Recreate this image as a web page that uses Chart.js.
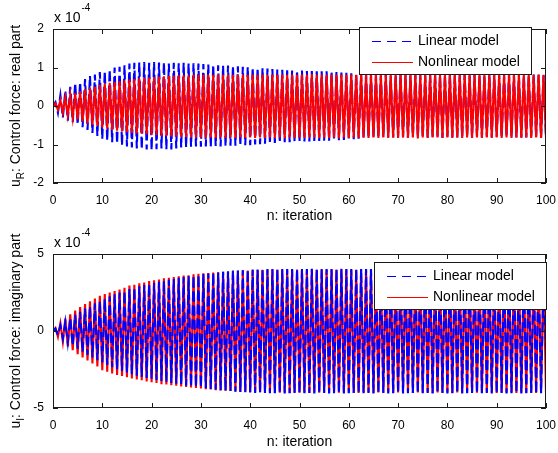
<!DOCTYPE html>
<html>
<head>
<meta charset="utf-8">
<script src="https://cdn.jsdelivr.net/npm/chart.js@4.4.1/dist/chart.umd.min.js"></script>
<style>
  html, body { margin: 0; padding: 0; background: #fff; }
  .panel { position: absolute; left: 0; width: 558px; }
  #realPanel { top: 0; height: 226px; }
  #imagPanel { top: 226px; height: 227px; }
</style>
</head>
<body>
<div class="panel" id="realPanel"><canvas id="realChart"></canvas></div>
<div class="panel" id="imagPanel"><canvas id="imagChart"></canvas></div>
<script>
// samples are taken every half iteration; values are in units of 1e-4
const STEP = 0.5;
const xTicks = [0, 10, 20, 30, 40, 50, 60, 70, 80, 90, 100];
const realTicks = [-2, -1, 0, 1, 2];
const imagTicks = [-5, 0, 5];
const seriesNames = ['Linear model', 'Nonlinear model'];

// u_R, linear model
const realLinear = [
  0, 0.1, -0.18, 0.28, -0.3, 0.4, -0.38, 0.5, -0.42, 0.6,
  -0.48, 0.62, -0.55, 0.7, -0.62, 0.78, -0.7, 0.82, -0.78, 0.88,
  -0.85, 0.9, -0.9, 0.95, -0.94, 1.0, -0.98, 1.02, -1.02, 1.06,
  -1.05, 1.1, -1.08, 1.12, -1.1, 1.13, -1.12, 1.14, -1.13, 1.12,
  -1.15, 1.14, -1.12, 1.13, -1.1, 1.14, -1.12, 1.1, -1.13, 1.12,
  -1.1, 1.11, -1.08, 1.12, -1.07, 1.1, -1.06, 1.11, -1.05, 1.1,
  -1.06, 1.09, -1.05, 1.08, -1.06, 1.07, -1.04, 1.06, -1.05, 1.05,
  -1.04, 1.05, -1.03, 1.04, -1.03, 1.03, -1.02, 1.02, -1.02, 1.01,
  -1.02, 1.0, -1.0, 0.99, -0.99, 0.98, -0.98, 0.97, -0.97, 0.96,
  -0.96, 0.95, -0.95, 0.94, -0.94, 0.93, -0.94, 0.92, -0.93, 0.92,
  -0.93, 0.92, -0.92, 0.91, -0.92, 0.91, -0.91, 0.9, -0.91, 0.9,
  -0.9, 0.9, -0.9, 0.89, -0.89, 0.88, -0.89, 0.87, -0.88, 0.86,
  -0.87, 0.85, -0.86, 0.84, -0.85, 0.83, -0.84, 0.82, -0.83, 0.82,
  -0.82, 0.8, -0.83, 0.79, -0.81, 0.82, -0.8, 0.78, -0.82, 0.81,
  -0.79, 0.82, -0.81, 0.8, -0.83, 0.79, -0.8, 0.81, -0.82, 0.8,
  -0.81, 0.79, -0.82, 0.81, -0.8, 0.82, -0.79, 0.8, -0.83, 0.81,
  -0.8, 0.82, -0.81, 0.79, -0.82, 0.8, -0.81, 0.82, -0.8, 0.79,
  -0.82, 0.81, -0.79, 0.8, -0.82, 0.81, -0.8, 0.82, -0.81, 0.8,
  -0.8, 0.79, -0.82, 0.81, -0.8, 0.82, -0.81, 0.8, -0.82, 0.79,
  -0.81, 0.8, -0.82, 0.81, -0.79, 0.82, -0.8, 0.81, -0.82, 0.8,
  -0.81
];

// u_R, nonlinear model
const realNonlinear = [
  0, 0.06, -0.1, 0.15, -0.17, 0.22, -0.24, 0.28, -0.3, 0.33,
  -0.35, 0.38, -0.4, 0.43, -0.45, 0.47, -0.49, 0.5, -0.52, 0.55,
  -0.56, 0.58, -0.59, 0.6, -0.62, 0.63, -0.64, 0.65, -0.66, 0.67,
  -0.68, 0.69, -0.7, 0.7, -0.71, 0.72, -0.72, 0.73, -0.73, 0.74,
  -0.75, 0.75, -0.76, 0.76, -0.77, 0.77, -0.78, 0.78, -0.79, 0.79,
  -0.79, 0.8, -0.8, 0.8, -0.81, 0.8, -0.81, 0.81, -0.82, 0.81,
  -0.82, 0.81, -0.83, 0.82, -0.82, 0.81, -0.83, 0.82, -0.82, 0.81,
  -0.83, 0.82, -0.82, 0.81, -0.83, 0.82, -0.82, 0.82, -0.83, 0.81,
  -0.82, 0.82, -0.83, 0.81, -0.82, 0.82, -0.83, 0.81, -0.82, 0.82,
  -0.83, 0.81, -0.82, 0.82, -0.84, 0.81, -0.82, 0.82, -0.83, 0.81,
  -0.82, 0.82, -0.83, 0.81, -0.82, 0.83, -0.82, 0.81, -0.83, 0.82,
  -0.82, 0.81, -0.83, 0.82, -0.82, 0.81, -0.84, 0.82, -0.82, 0.81,
  -0.83, 0.82, -0.82, 0.81, -0.83, 0.82, -0.82, 0.82, -0.83, 0.81,
  -0.82, 0.82, -0.83, 0.81, -0.82, 0.82, -0.83, 0.81, -0.82, 0.82,
  -0.83, 0.81, -0.82, 0.82, -0.83, 0.81, -0.82, 0.82, -0.84, 0.81,
  -0.82, 0.82, -0.83, 0.81, -0.82, 0.83, -0.82, 0.81, -0.83, 0.82,
  -0.82, 0.81, -0.83, 0.82, -0.82, 0.81, -0.83, 0.82, -0.82, 0.81,
  -0.83, 0.82, -0.82, 0.81, -0.83, 0.82, -0.82, 0.82, -0.83, 0.81,
  -0.82, 0.82, -0.83, 0.81, -0.82, 0.82, -0.83, 0.81, -0.82, 0.82,
  -0.83, 0.81, -0.82, 0.82, -0.83, 0.81, -0.82, 0.82, -0.83, 0.81,
  -0.82
];

// u_I, linear model
const imagLinear = [
  0, 0.15, -0.25, 0.38, -0.5, 0.6, -0.75, 0.85, -0.95, 1.05,
  -1.15, 1.25, -1.35, 1.45, -1.55, 1.62, -1.72, 1.8, -1.9, 1.95,
  -2.05, 2.1, -2.2, 2.25, -2.35, 2.38, -2.48, 2.5, -2.6, 2.6,
  -2.7, 2.72, -2.8, 2.82, -2.9, 2.9, -2.98, 2.98, -3.05, 3.05,
  -3.1, 3.12, -3.18, 3.2, -3.25, 3.25, -3.32, 3.32, -3.38, 3.38,
  -3.42, 3.45, -3.5, 3.5, -3.55, 3.55, -3.6, 3.6, -3.64, 3.65,
  -3.68, 3.7, -3.72, 3.74, -3.76, 3.78, -3.8, 3.8, -3.84, 3.84,
  -3.88, 3.88, -3.9, 3.92, -3.94, 3.94, -3.96, 3.96, -3.98, 3.98,
  -4.0, 3.99, -4.02, 4.0, -4.03, 4.01, -4.02, 4.02, -4.04, 4.02,
  -4.04, 4.03, -4.03, 4.02, -4.05, 4.03, -4.04, 4.02, -4.03, 4.03,
  -4.05, 4.02, -4.04, 4.03, -4.03, 4.04, -4.05, 4.02, -4.04, 4.03,
  -4.03, 4.03, -4.05, 4.02, -4.04, 4.03, -4.03, 4.04, -4.05, 4.02,
  -4.04, 4.03, -4.03, 4.02, -4.05, 4.03, -4.04, 4.02, -4.03, 4.03,
  -4.05, 4.02, -4.04, 4.03, -4.03, 4.04, -4.05, 4.02, -4.04, 4.03,
  -4.03, 4.03, -4.05, 4.02, -4.04, 4.03, -4.03, 4.04, -4.05, 4.02,
  -4.04, 4.03, -4.03, 4.02, -4.05, 4.03, -4.04, 4.02, -4.03, 4.03,
  -4.05, 4.02, -4.04, 4.03, -4.03, 4.04, -4.05, 4.02, -4.04, 4.03,
  -4.03, 4.03, -4.05, 4.02, -4.04, 4.03, -4.03, 4.04, -4.05, 4.02,
  -4.04, 4.03, -4.03, 4.02, -4.05, 4.03, -4.04, 4.02, -4.03, 4.03,
  -4.05, 4.02, -4.04, 4.03, -4.03, 4.04, -4.05, 4.02, -4.04, 3.2,
  -1.2
];

// u_I, nonlinear model
const imagNonlinear = [
  0, 0.2, -0.38, 0.5, -0.7, 0.8, -1.0, 1.08, -1.25, 1.32,
  -1.5, 1.55, -1.72, 1.75, -1.92, 1.93, -2.1, 2.1, -2.3, 2.28,
  -2.55, 2.4, -2.65, 2.5, -2.75, 2.6, -2.85, 2.7, -2.92, 2.8,
  -3.0, 2.95, -3.08, 3.0, -3.15, 3.1, -3.2, 3.15, -3.28, 3.25,
  -3.32, 3.3, -3.38, 3.35, -3.45, 3.42, -3.48, 3.45, -3.52, 3.5,
  -3.55, 3.55, -3.6, 3.6, -3.64, 3.62, -3.66, 3.68, -3.7, 3.72,
  -3.74, 3.75, -3.78, 3.76, -3.8, 3.8, -3.84, 3.82, -3.86, 3.84,
  -3.88, 3.85, -3.9, 3.88, -3.92, 3.9, -3.94, 3.9, -3.95, 3.92,
  -3.96, 3.95, -3.98, 3.96, -3.98, 3.97, -4.0, 3.98, -4.0, 3.98,
  -4.0, 3.97, -4.01, 3.98, -3.99, 3.98, -4.02, 3.97, -4.0, 3.99,
  -4.01, 3.98, -3.99, 3.97, -4.02, 3.99, -4.0, 3.98, -4.01, 3.97,
  -3.99, 3.98, -4.02, 3.99, -4.0, 3.97, -4.01, 3.98, -3.99, 3.99,
  -4.0, 3.98, -4.01, 3.97, -4.02, 3.98, -3.99, 3.99, -4.0, 3.98,
  -4.02, 3.97, -4.0, 3.99, -4.01, 3.98, -3.99, 3.97, -4.02, 3.98,
  -4.0, 3.99, -4.01, 3.98, -3.99, 3.97, -4.02, 3.98, -4.0, 3.99,
  -4.01, 3.97, -3.99, 3.98, -4.02, 3.99, -4.0, 3.98, -4.01, 3.97,
  -3.99, 3.98, -4.02, 3.99, -4.0, 3.97, -4.01, 3.98, -3.99, 3.99,
  -4.0, 3.98, -4.01, 3.97, -4.02, 3.98, -3.99, 3.99, -4.0, 3.98,
  -4.02, 3.97, -4.0, 3.99, -4.01, 3.98, -3.99, 3.97, -4.02, 3.98,
  -4.0, 3.99, -4.01, 3.98, -3.99, 3.97, -4.02, 3.98, -4.0, 3.99,
  -4.01
];

const FONT = 'Liberation Sans, Arial, Helvetica, sans-serif';
const AXIS_COLOR = '#1a1a1a';
const TICK_LEN = 5;
const LINE_WIDTH = 2.1;
const seriesStyle = {
  'Linear model': { color: '#0000ff', dash: [10, 4], keyDash: [9, 6] },
  'Nonlinear model': { color: '#ff0000', dash: [], keyDash: [] }
};

const toPoints = vals => vals.map((v, i) => ({ x: i * STEP, y: v }));

// rotated y label with a subscript after the first glyph
function drawYTitle(ctx, cx, cy, [main, sub, rest]) {
  ctx.save();
  ctx.translate(cx, cy);
  ctx.rotate(-Math.PI / 2);
  ctx.fillStyle = '#000';
  ctx.textBaseline = 'alphabetic';
  ctx.textAlign = 'left';
  ctx.font = `14px ${FONT}`;
  const w1 = ctx.measureText(main).width;
  const w3 = ctx.measureText(rest).width;
  ctx.font = `10px ${FONT}`;
  const w2 = ctx.measureText(sub).width;
  let px = -(w1 + w2 + w3) / 2;
  ctx.font = `14px ${FONT}`;
  ctx.fillText(main, px, 5);
  px += w1;
  ctx.font = `10px ${FONT}`;
  ctx.fillText(sub, px, 9);
  px += w2;
  ctx.font = `14px ${FONT}`;
  ctx.fillText(rest, px, 5);
  ctx.restore();
}

// key sample drawn as filled runs so dashes do not depend on stroke state
function drawKeySample(ctx, x0, x1, y, color, dash) {
  ctx.fillStyle = color;
  if (!dash.length) {
    ctx.fillRect(x0, y, x1 - x0, 1);
    return;
  }
  let px = x0, on = true, k = 0;
  while (px < x1) {
    const len = Math.min(dash[k % dash.length], x1 - px);
    if (on) ctx.fillRect(px, y, len, 1);
    px += len;
    on = !on;
    k++;
  }
}

// box frame, inward ticks, exponent note, y label and boxed legend
const matlabAxes = {
  id: 'matlabAxes',
  afterDraw(chart, args, opts) {
    const { ctx, chartArea: a, scales: { x, y } } = chart;
    ctx.save();
    ctx.strokeStyle = AXIS_COLOR;
    ctx.lineWidth = 1;
    ctx.setLineDash([]);
    ctx.beginPath();
    x.ticks.forEach(t => {
      const px = Math.round(x.getPixelForValue(t.value)) + 0.5;
      ctx.moveTo(px, a.top); ctx.lineTo(px, a.top + TICK_LEN);
      ctx.moveTo(px, a.bottom); ctx.lineTo(px, a.bottom - TICK_LEN);
    });
    y.ticks.forEach(t => {
      const py = Math.round(y.getPixelForValue(t.value)) + 0.5;
      ctx.moveTo(a.left, py); ctx.lineTo(a.left + TICK_LEN, py);
      ctx.moveTo(a.right, py); ctx.lineTo(a.right - TICK_LEN, py);
    });
    ctx.stroke();
    ctx.strokeRect(Math.round(a.left) + 0.5, Math.round(a.top) + 0.5,
                   Math.round(a.width) - 1, Math.round(a.height) - 1);

    // "x 10^-4"
    ctx.fillStyle = '#000';
    ctx.textAlign = 'left';
    ctx.textBaseline = 'alphabetic';
    ctx.font = `14px ${FONT}`;
    const base = 'x 10';
    ctx.fillText(base, a.left + 1, a.top - 7);
    const bw = ctx.measureText(base).width;
    ctx.font = `10px ${FONT}`;
    ctx.fillText('-4', a.left + 2 + bw, a.top - 18);

    drawYTitle(ctx, 15, (a.top + a.bottom) / 2, opts.yTitle);

    // legend box
    const lw = 172, lh = 47;
    const bx = Math.round(a.right - opts.legendRight - lw);
    const by = Math.round(a.top + opts.legendTop);
    ctx.fillStyle = '#fff';
    ctx.fillRect(bx, by, lw, lh);
    ctx.strokeStyle = AXIS_COLOR;
    ctx.strokeRect(bx + 0.5, by + 0.5, lw, lh);
    ctx.font = `14px ${FONT}`;
    ctx.textBaseline = 'middle';
    seriesNames.forEach((name, k) => {
      const st = seriesStyle[name];
      const ry = by + 14 + k * 21;
      drawKeySample(ctx, bx + 13, bx + 54, ry, st.color, st.keyDash);
      ctx.fillStyle = '#000';
      ctx.fillText(name, bx + 59, ry + 0.5);
    });
    ctx.restore();
  }
};

function buildChart(canvasId, cfg) {
  const tickFont = { family: FONT, size: 12 };
  const series = [cfg.linear, cfg.nonlinear];
  return new Chart(document.getElementById(canvasId), {
    type: 'line',
    data: {
      datasets: seriesNames.map((name, k) => ({
        label: name,
        data: toPoints(series[k]),
        borderColor: seriesStyle[name].color,
        borderDash: seriesStyle[name].dash,
        borderWidth: LINE_WIDTH,
        pointRadius: 0,
        order: cfg.order[k]
      }))
    },
    options: {
      responsive: true,
      maintainAspectRatio: false,
      animation: false,
      events: [],
      layout: { padding: { top: cfg.padTop, right: 12, left: 0, bottom: 0 } },
      plugins: {
        legend: { display: false },
        tooltip: { enabled: false },
        matlabAxes: { yTitle: cfg.yTitle, legendRight: cfg.legendRight, legendTop: cfg.legendTop }
      },
      scales: {
        x: {
          type: 'linear',
          min: xTicks[0],
          max: xTicks[xTicks.length - 1],
          afterBuildTicks: s => { s.ticks = xTicks.map(v => ({ value: v })); },
          ticks: { font: tickFont, color: '#000', padding: 2, maxRotation: 0, autoSkip: false },
          grid: { display: false },
          border: { display: false },
          title: {
            display: true,
            text: 'n: iteration',
            color: '#000',
            font: { family: FONT, size: 14 },
            padding: { top: 0, bottom: cfg.titlePad }
          },
          afterFit: s => { s.height = cfg.xHeight; s.paddingLeft = 0; s.paddingRight = 0; }
        },
        y: {
          type: 'linear',
          min: cfg.yTicks[0],
          max: cfg.yTicks[cfg.yTicks.length - 1],
          afterBuildTicks: s => { s.ticks = cfg.yTicks.map(v => ({ value: v })); },
          ticks: { font: tickFont, color: '#000', padding: 1 },
          grid: { display: false },
          border: { display: false },
          afterFit: s => { s.width = 53; s.paddingTop = 0; s.paddingBottom = 0; }
        }
      }
    },
    plugins: [matlabAxes]
  });
}

// top panel: nonlinear drawn over linear
buildChart('realChart', {
  linear: realLinear,
  nonlinear: realNonlinear,
  order: [2, 1],
  yTicks: realTicks,
  yTitle: ['u', 'R', ': Control force: real part'],
  padTop: 29,
  xHeight: 43,
  titlePad: 1,
  legendRight: 15,
  legendTop: -2.5
});

// bottom panel: linear drawn over nonlinear
buildChart('imagChart', {
  linear: imagLinear,
  nonlinear: imagNonlinear,
  order: [1, 2],
  yTicks: imagTicks,
  yTitle: ['u', 'I', ': Control force: imaginary part'],
  padTop: 28,
  xHeight: 45,
  titlePad: 2.5,
  legendRight: 0,
  legendTop: 7.5
});
</script>
</body>
</html>
